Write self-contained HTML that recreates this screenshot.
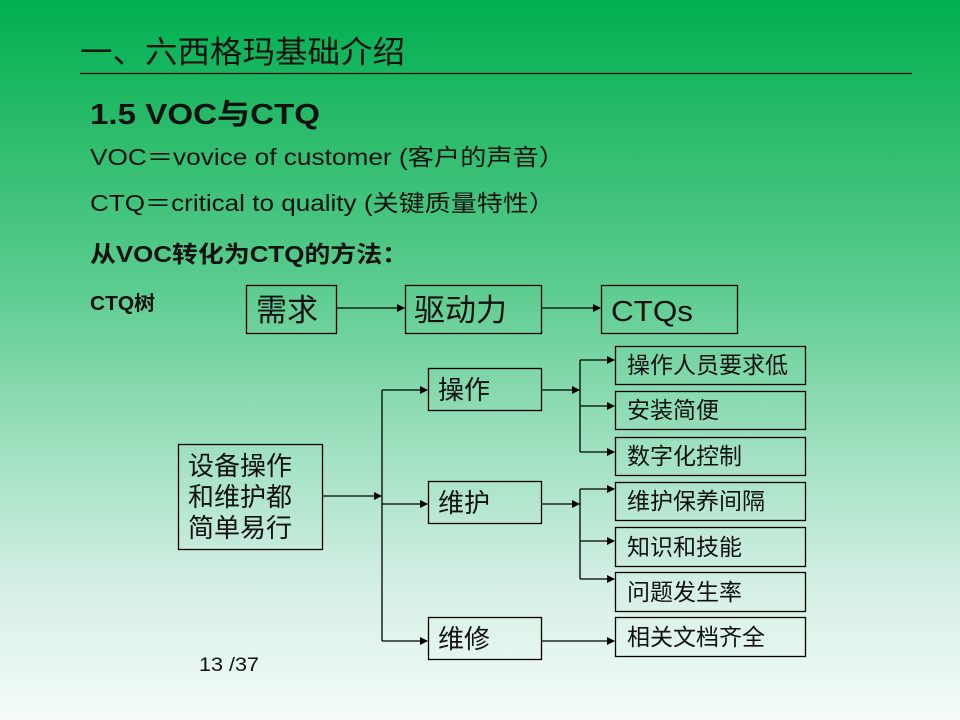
<!DOCTYPE html>
<html><head><meta charset="utf-8"><style>
html,body{margin:0;padding:0;width:960px;height:720px;overflow:hidden}
body{background:linear-gradient(180deg,#00b050 0%,#2fbd6e 20%,#5ccc8f 40%,#9ee0bf 62%,#d6f0e6 82%,#f4fbf8 100%);}
svg{position:absolute;left:0;top:0}
text{font-family:"Liberation Sans","Noto Sans CJK SC",sans-serif;fill:#111}
</style></head><body>
<svg width="960" height="720" viewBox="0 0 960 720">
<defs><marker id="a" markerWidth="8" markerHeight="8" refX="7" refY="4" orient="auto" markerUnits="userSpaceOnUse"><path d="M0,0 L8,4 L0,8 z" fill="#000"/></marker></defs>
<text x="80" y="63" font-size="31" textLength="325" lengthAdjust="spacingAndGlyphs">一、六西格玛基础介绍</text>
<line x1="80" y1="73.5" x2="912" y2="73.5" stroke="#000" stroke-width="1.3"/>
<text x="90" y="124" font-size="29" font-weight="bold" textLength="230" lengthAdjust="spacingAndGlyphs">1.5  VOC与CTQ</text>
<text x="90" y="165" font-size="23" textLength="475" lengthAdjust="spacingAndGlyphs">VOC＝vovice of customer (客户的声音）</text>
<text x="90" y="211" font-size="23" textLength="465" lengthAdjust="spacingAndGlyphs">CTQ＝critical to quality (关键质量特性）</text>
<text x="90" y="262" font-size="23" font-weight="bold" textLength="318" lengthAdjust="spacingAndGlyphs">从VOC转化为CTQ的方法：</text>
<text x="90" y="310" font-size="20" font-weight="bold" textLength="65" lengthAdjust="spacingAndGlyphs">CTQ树</text>
<g fill="none" stroke="#000" stroke-width="1.3">
<rect x="246.5" y="285.5" width="90" height="48"/>
<rect x="405.5" y="285.5" width="136" height="48"/>
<rect x="601.5" y="285.5" width="136" height="48"/>
<rect x="178.5" y="444.5" width="144" height="105"/>
<rect x="428.5" y="368.5" width="113" height="42"/>
<rect x="428.5" y="481.5" width="113" height="42"/>
<rect x="428.5" y="617.5" width="113" height="42"/>
<rect x="615.5" y="346.5" width="190" height="38"/>
<rect x="615.5" y="391.5" width="190" height="38"/>
<rect x="615.5" y="437.5" width="190" height="38"/>
<rect x="615.5" y="482.5" width="190" height="38"/>
<rect x="615.5" y="527.5" width="190" height="39"/>
<rect x="615.5" y="572.5" width="190" height="39"/>
<rect x="615.5" y="617.5" width="190" height="39"/>
<line x1="336" y1="308" x2="404" y2="308" marker-end="url(#a)"/>
<line x1="541" y1="308" x2="600" y2="308" marker-end="url(#a)"/>
<line x1="322" y1="496" x2="381" y2="496" marker-end="url(#a)"/>
<polyline points="382,390 382,641"/>
<line x1="382" y1="390" x2="427" y2="390" marker-end="url(#a)"/>
<line x1="382" y1="504" x2="427" y2="504" marker-end="url(#a)"/>
<line x1="382" y1="641" x2="427" y2="641" marker-end="url(#a)"/>
<line x1="541" y1="390" x2="579" y2="390" marker-end="url(#a)"/>
<polyline points="580,360 580,452"/>
<line x1="580" y1="360" x2="614" y2="360" marker-end="url(#a)"/>
<line x1="580" y1="406" x2="614" y2="406" marker-end="url(#a)"/>
<line x1="580" y1="452" x2="614" y2="452" marker-end="url(#a)"/>
<line x1="541" y1="504" x2="579" y2="504" marker-end="url(#a)"/>
<polyline points="580,489 580,579"/>
<line x1="580" y1="489" x2="614" y2="489" marker-end="url(#a)"/>
<line x1="580" y1="541" x2="614" y2="541" marker-end="url(#a)"/>
<line x1="580" y1="579" x2="614" y2="579" marker-end="url(#a)"/>
<line x1="541" y1="641" x2="614" y2="641" marker-end="url(#a)"/>
</g>
<text x="256" y="321" font-size="31">需求</text>
<text x="414" y="321" font-size="31">驱动力</text>
<text x="611" y="321" font-size="29" textLength="82" lengthAdjust="spacingAndGlyphs">CTQs</text>
<text x="188" y="475" font-size="26">设备操作</text>
<text x="188" y="506" font-size="26">和维护都</text>
<text x="188" y="537" font-size="26">简单易行</text>
<text x="438" y="399" font-size="26">操作</text>
<text x="438" y="512" font-size="26">维护</text>
<text x="438" y="648" font-size="26">维修</text>
<g font-size="23">
<text x="627" y="373">操作人员要求低</text>
<text x="627" y="418">安装简便</text>
<text x="627" y="464">数字化控制</text>
<text x="627" y="509">维护保养间隔</text>
<text x="627" y="555">知识和技能</text>
<text x="627" y="600">问题发生率</text>
<text x="627" y="645">相关文档齐全</text>
</g>
<text x="199" y="671" font-size="19" textLength="60" lengthAdjust="spacingAndGlyphs">13  /37</text>
</svg>
</body></html>
